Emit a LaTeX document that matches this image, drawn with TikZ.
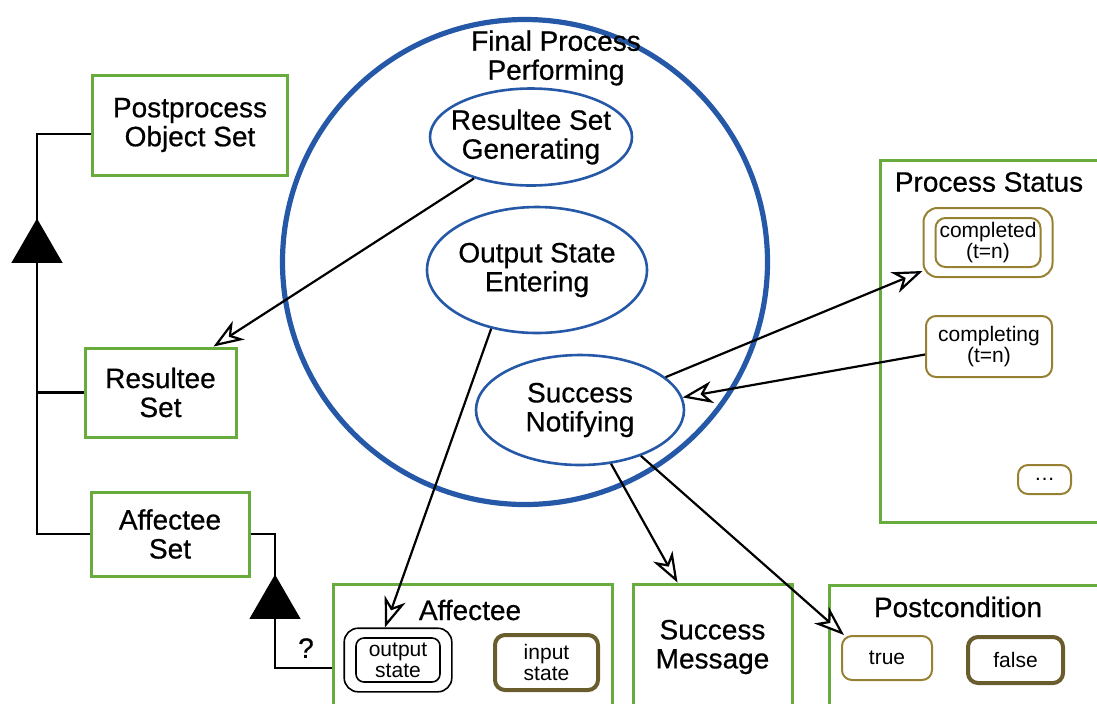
\documentclass[tikz,border=0pt]{standalone}
\usepackage{fontspec}
\setmainfont{Liberation Sans}[BoldFont=Liberation Sans, BoldFeatures={FakeBold=0.6}]
\usepackage{xcolor}
\usetikzlibrary{positioning,arrows.meta,shapes.geometric,calc,fit}
\definecolor{objgreen}{RGB}{104,172,62}
\definecolor{procblue}{RGB}{38,88,168}
\definecolor{stateolive}{RGB}{150,128,50}
\definecolor{statedark}{RGB}{105,92,45}
\newcommand{\bigfont}{\fontsize{14}{14.5}\selectfont\bfseries}
\newcommand{\smallfont}{\fontsize{10.5}{10.5}\selectfont}
\tikzset{
  objbox/.style = {draw=objgreen, line width=1.5pt, align=center, font=\bigfont, inner sep=2pt},
  cbox/.style   = {draw=objgreen, line width=1.5pt},
  proc/.style   = {ellipse, draw=procblue, line width=1.3pt, align=center, font=\bigfont, inner xsep=-8pt, inner ysep=0pt},
  sbox/.style   = {draw=stateolive, line width=1pt, rounded corners=5pt, align=center, font=\smallfont, inner sep=1pt},
  obox/.style   = {draw, line width=0.8pt, align=center, font=\smallfont, inner sep=1pt},
  flow/.style   = {-{Stealth[open, length=15pt, width=11pt, inset=4.5pt, fill=white]}, line width=1.1pt},
  link/.style   = {line width=1.2pt},
  agg/.style    = {regular polygon, regular polygon sides=3, fill=black, inner sep=0pt, minimum size=29.5pt},
}

\begin{document}
\begin{tikzpicture}[x=0.5pt, y=-0.5pt]
  \useasboundingbox (0,0) rectangle (1097,703);

  % object sets on the left
  \node[objbox, minimum width=97.5pt, minimum height=50pt] (pos) at (190,125) {Postprocess\\Object Set};
  \node[objbox, minimum width=75.5pt, minimum height=44.5pt] (rset) at (160.5,392.5) {Resultee\\Set};
  \node[objbox, minimum width=79pt, minimum height=42pt] (aset) at (170,534) {Affectee\\Set};

  % the process
  \node[circle, draw=procblue, line width=2.6pt, minimum size=242.5pt] (fpp) at (525,262) {};
  \node[font=\bigfont, align=center] (fpptitle) at (556,58) {Final Process\\Performing};
  \node[proc, minimum width=101pt, minimum height=48.5pt] (rsg) at (531,137) {Resultee Set\\Generating};
  \node[proc, minimum width=110pt, minimum height=63pt] (ose) at (537,270) {Output State\\Entering};
  \node[proc, minimum width=104pt, minimum height=55pt] (sn) at (580,410) {Success\\Notifying};

  % process status
  \node[cbox, minimum width=110pt, minimum height=181pt] (psbox) at (990,341) {};
  \node[font=\bigfont] (pstitle) at (989,182) {Process Status};
  \node[sbox, minimum width=52.5pt, minimum height=24.5pt] (cdin) at (988,242.5) {completed\\(t=n)};
  \node[sbox, fit=(cdin), inner xsep=5.5pt, inner ysep=4.5pt, rounded corners=7pt] (cdout) {};
  \node[sbox, minimum width=63pt, minimum height=30.5pt] (cing) at (989,346.5) {completing\\(t=n)};
  \node[sbox, minimum width=26.5pt, minimum height=14.5pt] (more) at (1044.5,479.5) {\dots};

  % affectee
  \node[cbox, minimum width=139.5pt, minimum height=63pt] (affbox) at (472.5,647) {};
  \node[font=\bigfont] (afftitle) at (470,610) {Affectee};
  \node[obox, rounded corners=4pt, minimum width=42pt, minimum height=22pt] (osin) at (398,660) {output\\state};
  \node[obox, rounded corners=7pt, fit=(osin), inner xsep=5.5pt, inner ysep=4.5pt] (osout) {};
  \node[sbox, draw=statedark, line width=2pt, minimum width=51.5pt, minimum height=27.5pt] (isin) at (546.5,662.5) {input\\state};

  % success message and postcondition
  \node[objbox, minimum width=79.5pt, minimum height=63pt] (smsg) at (712.5,647) {Success\\Message};
  \node[cbox, minimum width=135.5pt, minimum height=62.5pt] (pcbox) at (964.5,647.5) {};
  \node[font=\bigfont] (pctitle) at (958,607) {Postcondition};
  \node[sbox, minimum width=45pt, minimum height=22pt] (ptrue) at (887,658) {true};
  \node[sbox, draw=statedark, line width=2pt, minimum width=47.5pt, minimum height=23pt] (pfalse) at (1015.5,660) {false};

  % aggregation trees
  \coordinate (ttop) at (37,134);
  \draw[link] (pos.west |- ttop) -- (ttop) |- (aset.west);
  \draw[link] (rset.west) -- (rset.west -| ttop);
  \node[agg] (agg1) at (37,248) {};
  \coordinate (qbend) at (275,668);
  \draw[link] (aset.east) -| (qbend) -- (qbend -| affbox.west);
  \node[agg] (agg2) at (275,604) {};
  \node[font=\bigfont] (qmark) at (306,648) {?};

  % links
  \draw[flow] (rsg.216) -- ([xshift=-12pt]rset.north east);
  \draw[flow] (ose.232) -- ([xshift=-6.5pt]osout.north);
  \draw[flow] (sn.21) -- ([yshift=3.5pt]cdout.south west);
  \draw[flow] ([yshift=-4pt]cing.west) -- (sn.7);
  \draw[flow] (sn.-60) -- ([xshift=-17.5pt]smsg.north);
  \draw[flow] (sn.-37) -- ([xshift=1.5pt]ptrue.north west);
\end{tikzpicture}
\end{document}
